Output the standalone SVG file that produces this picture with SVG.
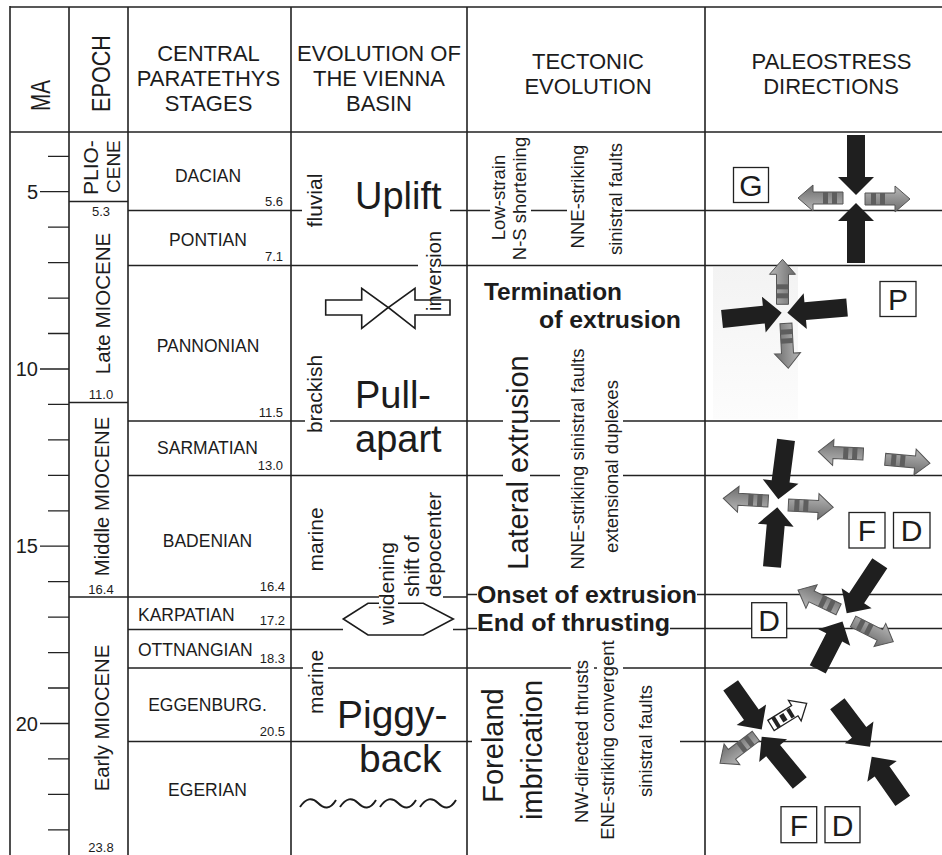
<svg xmlns="http://www.w3.org/2000/svg" width="942" height="855" viewBox="0 0 942 855">
<style>
.t{font-family:'Liberation Sans',Arial,Helvetica,sans-serif;fill:#1c1c1c}
.m{text-anchor:middle}
.e{text-anchor:end}
.h{font-size:22px}
.st{font-size:17.5px}
.n{font-size:13px}
.v21{font-size:21px}
.v18{font-size:18.5px}
.v29{font-size:29px}
.ep{font-size:20.3px}
.big{font-size:38px}
.b{font-weight:bold;font-size:24px}
.L{font-size:30px;text-anchor:middle}
.ln{stroke:#222;stroke-width:1.3;fill:none}
.vl{stroke:#222;stroke-width:1.6;fill:none}
.lb{fill:#fff;stroke:#222;stroke-width:1.3}
.ol{fill:#fff;stroke:#1c1c1c;stroke-width:1.6}
.blk{fill:#1f1f1f}
</style>
<defs>
<linearGradient id="gg" x1="0" y1="0" x2="0" y2="1">
<stop offset="0" stop-color="#b8b8b8"/><stop offset="1" stop-color="#6c6c6c"/>
</linearGradient>
<linearGradient id="bgp" x1="0" y1="0" x2="0" y2="1">
<stop offset="0" stop-color="#f3f3f3"/><stop offset="1" stop-color="#fcfcfc"/>
</linearGradient>
<path id="ba" class="blk" d="M0,0 L-18,-18 L-18,-9 L-60,-9 L-60,9 L-18,9 L-18,18 Z"/>
<path id="bb" class="blk" d="M0,0 L-18,-18 L-18,-9 L-54,-9 L-54,9 L-18,9 L-18,18 Z"/>
<g id="ga">
<path d="M0,0 L-15,-13 L-15,-6 L-45,-6 L-45,6 L-15,6 L-15,13 Z" fill="url(#gg)" stroke="#555" stroke-width="1"/>
<rect x="-39" y="-6" width="5" height="12" fill="#5e5e5e"/>
<rect x="-30" y="-6" width="5" height="12" fill="#5e5e5e"/>
</g>
<g id="wa">
<path d="M0,0 L-14,-12 L-14,-6 L-42,-6 L-42,6 L-14,6 L-14,12 Z" fill="#fff" stroke="#222" stroke-width="1.3"/>
<rect x="-38" y="-6" width="4" height="12" fill="#222"/>
<rect x="-30" y="-4" width="5" height="8" fill="#222"/>
<rect x="-21" y="-5" width="4" height="10" fill="#222"/>
</g>
</defs>

<rect x="0" y="0" width="942" height="855" fill="#fff"/>
<rect x="713" y="267" width="85" height="152" fill="url(#bgp)"/>

<g id="grid">
<path class="vl" d="M10,7H942 M10,132H942" stroke-width="2.5"/>
<path class="vl" d="M10,6V855" stroke-width="3"/>
<path class="vl" d="M69,7V855 M128,7V855 M291,7V855 M467,7V855 M705,7V855"/>
<path class="ln" d="M69,201.5H128
M128,210.5H302 M450,210.5H490 M531,210.5H567 M625,210.5H942
M128,265.5H418 M441,265.5H942
M69,402.5H128
M128,421H305 M330,421H503 M530,421H560 M623,421H942
M128,475.5H503 M530,475.5H560 M623,475.5H942
M69,597H380 M443,597H467
M467,594.5H477 M697,594.5H942
M128,629.5H343 M453,629.5H467 M467,628.5H477 M670,628.5H942
M128,668H303 M328,668H571 M594,668H597 M623,668H942
M128,741.5H472 M680,741.5H942"/>
<path class="ln" d="M48,156.3H69 M40,191.7H69 M48,227.2H69 M48,262.6H69 M48,298.1H69 M48,333.5H69 M40,369H69 M48,404.4H69 M48,439.9H69 M48,475.3H69 M48,510.8H69 M40,546.2H69 M48,581.7H69 M48,617.1H69 M48,652.6H69 M48,688H69 M40,723.5H69 M48,758.9H69 M48,794.4H69 M48,829.8H69"/>
</g>

<g id="col-ma">
<text class="t" font-size="27" textLength="31" lengthAdjust="spacingAndGlyphs" transform="translate(50,111) rotate(-90)">MA</text>
<text class="t e" font-size="20" x="38" y="198.7">5</text>
<text class="t e" font-size="20" x="38" y="376">10</text>
<text class="t e" font-size="20" x="38" y="553.2">15</text>
<text class="t e" font-size="20" x="38" y="730.5">20</text>
</g>

<g id="col-epoch">
<text class="t" font-size="26" textLength="77" lengthAdjust="spacingAndGlyphs" transform="translate(110,112) rotate(-90)">EPOCH</text>
<text class="t" font-size="21" transform="translate(98,195) rotate(-90)">PLIO-</text>
<text class="t" font-size="19" transform="translate(120,193) rotate(-90)">CENE</text>
<text class="t m n" x="101" y="216">5.3</text>
<text class="t m" font-size="20.5" transform="translate(110,303.5) rotate(-90)">Late MIOCENE</text>
<text class="t m n" x="101" y="399">11.0</text>
<text class="t m" font-size="20.2" transform="translate(108.5,496.5) rotate(-90)">Middle MIOCENE</text>
<text class="t m n" x="101" y="594">16.4</text>
<text class="t m" font-size="20.3" transform="translate(108.5,718) rotate(-90)">Early MIOCENE</text>
<text class="t m n" x="101" y="852">23.8</text>
</g>

<g id="col-stages">
<text class="t m h" x="208.5" y="61">CENTRAL</text>
<text class="t m h" x="208.5" y="85.7">PARATETHYS</text>
<text class="t m h" x="208.5" y="110.5">STAGES</text>
<text class="t m st" x="208" y="182">DACIAN</text>
<text class="t e n" x="283" y="206">5.6</text>
<text class="t m st" x="208" y="246">PONTIAN</text>
<text class="t e n" x="283" y="261">7.1</text>
<text class="t m st" x="208" y="351.7">PANNONIAN</text>
<text class="t e n" x="283" y="416.7">11.5</text>
<text class="t m st" x="207.5" y="454">SARMATIAN</text>
<text class="t e n" x="283" y="470.3">13.0</text>
<text class="t m st" x="207.5" y="546.7">BADENIAN</text>
<text class="t e n" x="285" y="591">16.4</text>
<text class="t st" x="138" y="621">KARPATIAN</text>
<text class="t e n" x="285" y="625">17.2</text>
<text class="t st" x="138" y="655.7">OTTNANGIAN</text>
<text class="t e n" x="285" y="663.3">18.3</text>
<text class="t m st" x="207.5" y="711">EGGENBURG.</text>
<text class="t e n" x="285" y="735.7">20.5</text>
<text class="t m st" x="207.5" y="796">EGERIAN</text>
</g>

<g id="col-basin">
<text class="t m h" x="379" y="61">EVOLUTION OF</text>
<text class="t m h" x="379" y="85.7">THE VIENNA</text>
<text class="t m h" x="379" y="110.5">BASIN</text>
<text class="t m v21" transform="translate(322,200.5) rotate(-90)">fluvial</text>
<text class="t big" x="355" y="209">Uplift</text>
<g id="inversion-arrows" class="ol" fill="none">
<path fill="#fff" d="M325.7,300 L361.7,300 L361.7,288.3 L388.3,307.5 L361.7,328.3 L361.7,315 L325.7,315 Z"/>
<path fill="none" d="M450,300 L415,300 L415,288.3 L388.3,307.5 L415,328.3 L415,315 L450,315 Z"/>
</g>
<text class="t m" font-size="20" transform="translate(441,271) rotate(-90)">inversion</text>
<text class="t m v21" transform="translate(322,394) rotate(-90)">brackish</text>
<text class="t big" x="355" y="408">Pull-</text>
<text class="t big" x="355" y="452">apart</text>
<text class="t m v21" transform="translate(323,539.5) rotate(-90)">marine</text>
<polygon class="ol" points="343.3,619 368,603.3 423.3,603.3 453.3,619 423.3,635 368,635"/>
<rect x="379" y="540" width="19" height="86" fill="#fff"/>
<text class="t v21" transform="translate(394,625) rotate(-90)">widening</text>
<text class="t v21" transform="translate(418.5,597) rotate(-90)">shift of</text>
<text class="t v21" transform="translate(441,597) rotate(-90)">depocenter</text>
<text class="t m v21" transform="translate(323,682) rotate(-90)">marine</text>
<text class="t" font-size="39" x="337" y="727.5">Piggy-</text>
<text class="t" font-size="39" x="359" y="771.5">back</text>
<path fill="none" stroke="#1c1c1c" stroke-width="2" d="M300,807 c6,-9 12,-10 18,-4 s12,7 18,-3 M340,807 c6,-9 12,-10 18,-4 s12,7 18,-3 M380,807 c6,-9 12,-10 18,-4 s12,7 18,-3 M420,807 c6,-9 12,-10 18,-4 s12,7 18,-3"/>
</g>

<g id="col-tectonic">
<text class="t m h" x="588" y="69.3">TECTONIC</text>
<text class="t m h" x="588" y="94.3">EVOLUTION</text>
<text class="t m v18" transform="translate(505,197.5) rotate(-90)">Low-strain</text>
<text class="t m v18" transform="translate(526,198.5) rotate(-90)">N-S shortening</text>
<text class="t m v18" transform="translate(584,196.5) rotate(-90)">NNE-striking</text>
<text class="t m v18" transform="translate(622,199) rotate(-90)">sinistral faults</text>
<text class="t b" x="484" y="300" textLength="138" lengthAdjust="spacingAndGlyphs">Termination</text>
<text class="t b" x="539" y="328" textLength="142" lengthAdjust="spacingAndGlyphs">of extrusion</text>
<text class="t m v29" transform="translate(528,462.5) rotate(-90)">Lateral extrusion</text>
<text class="t m v18" transform="translate(584,459) rotate(-90)">NNE-striking sinistral faults</text>
<text class="t m v18" transform="translate(618,466.5) rotate(-90)">extensional duplexes</text>
<text class="t b" x="477" y="603" textLength="220" lengthAdjust="spacingAndGlyphs">Onset of extrusion</text>
<text class="t b" x="477" y="631" textLength="193" lengthAdjust="spacingAndGlyphs">End of thrusting</text>
<text class="t m v29" transform="translate(503,745.5) rotate(-90)">Foreland</text>
<text class="t m v29" transform="translate(542,750) rotate(-90)">imbrication</text>
<text class="t m v18" transform="translate(588,741.5) rotate(-90)">NW-directed thrusts</text>
<text class="t m v18" transform="translate(614,740) rotate(-90)">ENE-striking convergent</text>
<text class="t m v18" transform="translate(652,741) rotate(-90)">sinistral faults</text>
</g>

<g id="col-paleostress">
<text class="t m h" x="831.5" y="69.3">PALEOSTRESS</text>
<text class="t m h" x="831" y="94.3">DIRECTIONS</text>
</g>

<g id="stress-G">
<rect class="lb" x="733.5" y="167.5" width="35" height="35"/>
<text class="t L" x="751" y="196">G</text>
<use href="#ga" transform="translate(798,198) rotate(180)"/>
<use href="#ga" transform="translate(910,199)"/>
<use href="#ba" transform="translate(856,195) rotate(90)"/>
<use href="#ba" transform="translate(856,203) rotate(-90)"/>
</g>

<g id="stress-P">
<rect class="lb" x="880" y="281.5" width="36" height="35"/>
<text class="t L" x="898" y="310">P</text>
<use href="#ga" transform="translate(782.5,259.3) rotate(-90)"/>
<use href="#ga" transform="translate(788.3,368.3) rotate(87)"/>
<use href="#ba" transform="translate(781.7,312.7) rotate(-6)"/>
<use href="#ba" transform="translate(787.3,312.7) rotate(175)"/>
</g>

<g id="stress-FD-badenian">
<use href="#ga" transform="translate(818.3,451.7) rotate(183)"/>
<use href="#ga" transform="translate(930,463.3) rotate(5)"/>
<use href="#ga" transform="translate(723.3,498.3) rotate(183.5)"/>
<use href="#ga" transform="translate(833.3,507.3) rotate(3)"/>
<use href="#ba" transform="translate(778.3,499.3) rotate(97.4)"/>
<use href="#ba" transform="translate(777.3,507.3) rotate(-84.9)"/>
<rect class="lb" x="849" y="512.5" width="36" height="35.5"/>
<text class="t L" x="867" y="541">F</text>
<rect class="lb" x="893.5" y="512.5" width="36.5" height="35.5"/>
<text class="t L" x="911.7" y="541">D</text>
</g>

<g id="stress-D-karpatian">
<rect class="lb" x="751.7" y="602.7" width="35" height="35"/>
<text class="t L" x="769" y="631">D</text>
<use href="#ga" transform="translate(798,590) rotate(205.5)"/>
<use href="#ga" transform="translate(893.3,641.7) rotate(26.7)"/>
<use href="#ba" transform="translate(846.7,613.3) rotate(123.5)"/>
<use href="#bb" transform="translate(842.5,621.5) rotate(-62.7)"/>
</g>

<g id="stress-FD-early">
<use href="#ga" transform="translate(720,763.3) rotate(142.8)"/>
<use href="#wa" transform="translate(806.7,703.3) rotate(-31.8)"/>
<use href="#bb" transform="translate(761.7,729.5) rotate(54.9)"/>
<use href="#ba" transform="translate(761.7,736.7) rotate(230.6)"/>
<use href="#bb" transform="translate(870,746.7) rotate(52.8)"/>
<use href="#bb" transform="translate(871.7,756.7) rotate(-125.1)"/>
<rect class="lb" x="781" y="806.7" width="35.7" height="36"/>
<text class="t L" x="799" y="835.7">F</text>
<rect class="lb" x="825" y="806.7" width="35" height="36"/>
<text class="t L" x="842.5" y="835.7">D</text>
</g>
</svg>
